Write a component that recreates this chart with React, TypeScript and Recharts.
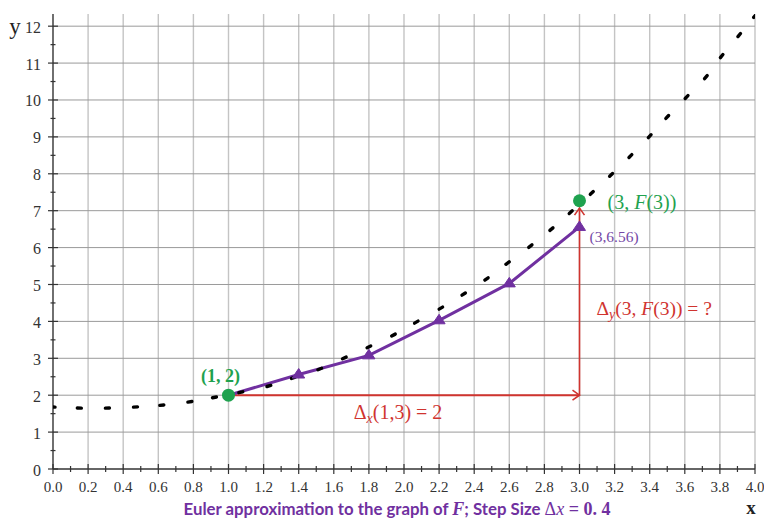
import React from 'react';
import { ComposedChart, Line, Scatter, XAxis, YAxis, CartesianGrid, ReferenceDot } from 'recharts';

// ---------- data ----------
const xTicks = [0, 0.1, 0.2, 0.3, 0.4, 0.5, 0.6, 0.7, 0.8, 0.9, 1.0, 1.1, 1.2, 1.3, 1.4, 1.5, 1.6, 1.7, 1.8, 1.9, 2.0, 2.1, 2.2, 2.3, 2.4, 2.5, 2.6, 2.7, 2.8, 2.9, 3.0, 3.1, 3.2, 3.3, 3.4, 3.5, 3.6, 3.7, 3.8, 3.9, 4.0];
const xGridValues = [0.2, 0.4, 0.6, 0.8, 1.0, 1.2, 1.4, 1.6, 1.8, 2.0, 2.2, 2.4, 2.6, 2.8, 3.0, 3.2, 3.4, 3.6, 3.8, 4.0];
const yTicks = [0, 0.5, 1, 1.5, 2, 2.5, 3, 3.5, 4, 4.5, 5, 5.5, 6, 6.5, 7, 7.5, 8, 8.5, 9, 9.5, 10, 10.5, 11, 11.5, 12];
const yGridValues = [1, 2, 3, 4, 5, 6, 7, 8, 9, 10, 11, 12];

// dotted graph of F
const fCurveX = [0.0, 0.15, 0.31, 0.47, 0.62, 0.78, 0.92, 1.07, 1.23, 1.37, 1.52, 1.66, 1.80, 1.94, 2.07, 2.21, 2.34, 2.47, 2.59, 2.72, 2.84, 2.95, 3.07, 3.18, 3.29, 3.40, 3.50, 3.61, 3.72, 3.81, 3.91, 4.0];
const fCurveY = [1.68, 1.65, 1.65, 1.68, 1.73, 1.82, 1.94, 2.08, 2.25, 2.47, 2.71, 3.01, 3.31, 3.63, 3.98, 4.36, 4.74, 5.15, 5.58, 6.04, 6.50, 6.96, 7.48, 7.97, 8.48, 9.02, 9.54, 10.08, 10.62, 11.19, 11.76, 12.28];

// Euler approximation, step 0.4
const eulerX = [1.0, 1.4, 1.8, 2.2, 2.6, 3.0];
const eulerY = [2.0, 2.56, 3.08, 4.03, 5.03, 6.56];

// marked points
const greenX = [1, 3];
const greenY = [2, 7.27];

// red arrows
const dxArrowX = [1, 3];
const dxArrowY = [2, 2];
const dyArrowX = [3, 3];
const dyArrowY = [2, 7.07];

const fData = fCurveX.map((x, i) => ({ x, y: fCurveY[i] }));
const eulerData = eulerX.map((x, i) => ({ x, y: eulerY[i] }));
const greenData = greenX.map((x, i) => ({ x, y: greenY[i] }));
const dxData = dxArrowX.map((x, i) => ({ x, y: dxArrowY[i] }));
const dyData = dyArrowX.map((x, i) => ({ x, y: dyArrowY[i] }));

// ---------- layout / style ----------
const W = 764;
const H = 521;
const M = { top: 14, right: 9, left: 8, bottom: 22 };
const Y_AXIS_W = 45;
const X_AXIS_H = 30;
const X_DOMAIN: [number, number] = [0, 4];
const Y_DOMAIN: [number, number] = [0, 12.33];
const PLOT_W = W - M.left - M.right - Y_AXIS_W;
const PLOT_H = H - M.top - M.bottom - X_AXIS_H;
const PX_X = PLOT_W / (X_DOMAIN[1] - X_DOMAIN[0]);
const PX_Y = PLOT_H / (Y_DOMAIN[1] - Y_DOMAIN[0]);

const PURPLE = '#7030a0';
const RED = '#d0342f';
const GREEN = '#1fa24f';
const SERIF = '"Liberation Serif", "DejaVu Serif", serif';
const AXIS = '#333333';

const XTick = (props: any) => {
  const { x, y, payload } = props;
  const v = Number(payload.value);
  const major = Math.round(v * 10) % 2 === 0;
  const h = major ? 5 : 3;
  return (
    <g>
      <line x1={x} x2={x} y1={y - h} y2={y + h} stroke={AXIS} strokeWidth={1.2} />
      {major && (
        <text x={x} y={y + 23} textAnchor="middle" fontFamily={SERIF} fontSize={15} fill="#333">
          {v.toFixed(1)}
        </text>
      )}
    </g>
  );
};

const YTick = (props: any) => {
  const { x, y, payload } = props;
  const v = Number(payload.value);
  const major = Number.isInteger(v);
  return (
    <g>
      {major ? (
        <line x1={x - 5} x2={x + 5} y1={y} y2={y} stroke={AXIS} strokeWidth={1.2} />
      ) : (
        <line x1={x - 2.5} x2={x + 2.5} y1={y} y2={y} stroke={AXIS} strokeWidth={1.2} />
      )}
      {major && (
        <text x={x - 12} y={y + 6.5} textAnchor="end" fontFamily={SERIF} fontSize={16} fill="#333">
          {String(v)}
        </text>
      )}
    </g>
  );
};

const FDash = (props: any) => {
  const { cx, cy, payload } = props;
  if (cx == null || cy == null) return <g />;
  const i = fCurveX.indexOf(payload.x);
  const i0 = Math.max(0, i - 1);
  const i1 = Math.min(fCurveX.length - 1, i + 1);
  const dxp = (fCurveX[i1] - fCurveX[i0]) * PX_X;
  const dyp = -(fCurveY[i1] - fCurveY[i0]) * PX_Y;
  const a = Math.atan2(dyp, dxp);
  const L = 2;
  return (
    <line
      x1={cx - L * Math.cos(a)}
      y1={cy - L * Math.sin(a)}
      x2={cx + L * Math.cos(a)}
      y2={cy + L * Math.sin(a)}
      stroke="#000"
      strokeWidth={3.4}
      strokeLinecap="round"
    />
  );
};

const TriangleDot = (props: any) => {
  const { cx, cy, index } = props;
  if (index === 0 || cx == null) return <g key={`t${index}`} />;
  return (
    <path
      key={`t${index}`}
      d={`M${cx},${cy - 6} L${cx + 6},${cy + 3.5} L${cx - 6.5},${cy + 3.5} Z`}
      fill={PURPLE}
      stroke={PURPLE}
      strokeWidth={1}
      strokeLinejoin="round"
    />
  );
};

const RightArrowDot = (props: any) => {
  const { cx, cy, index } = props;
  if (index !== 1 || cx == null) return <g key={`r${index}`} />;
  return (
    <path key={`r${index}`} d={`M${cx - 7},${cy - 5} L${cx},${cy} L${cx - 7},${cy + 5}`} fill="none" stroke={RED} strokeWidth={1.6} />
  );
};

const UpArrowDot = (props: any) => {
  const { cx, cy, index } = props;
  if (index !== 1 || cx == null) return <g key={`u${index}`} />;
  return (
    <path key={`u${index}`} d={`M${cx - 5},${cy + 7} L${cx},${cy} L${cx + 5},${cy + 7}`} fill="none" stroke={RED} strokeWidth={1.6} />
  );
};

const GreenDot = (props: any) => {
  const { cx, cy } = props;
  return <circle cx={cx} cy={cy} r={6.5} fill={GREEN} />;
};

export default function App() {
  return (
    <div style={{ position: 'absolute', left: 0, top: 0, width: W, height: H, background: '#fff' }}>
      <ComposedChart width={W} height={H} margin={M}>
        <CartesianGrid horizontal={false} vertical verticalValues={xGridValues} stroke="#c4c4c4" strokeWidth={1.4} />
        <CartesianGrid vertical={false} horizontal horizontalValues={yGridValues} stroke="#9a9a9a" strokeWidth={1} />
        <XAxis
          dataKey="x"
          type="number"
          domain={X_DOMAIN}
          allowDataOverflow
          ticks={xTicks}
          interval={0}
          height={X_AXIS_H}
          tickLine={false}
          tickSize={0}
          tickMargin={0}
          tick={<XTick />}
          axisLine={{ stroke: AXIS, strokeWidth: 1.4 }}
        />
        <YAxis
          dataKey="y"
          type="number"
          domain={Y_DOMAIN}
          allowDataOverflow
          ticks={yTicks}
          interval={0}
          width={Y_AXIS_W}
          tickLine={false}
          tickSize={0}
          tickMargin={0}
          tick={<YTick />}
          axisLine={{ stroke: AXIS, strokeWidth: 1.4 }}
        />
        <Line data={dxData} dataKey="y" stroke={RED} strokeWidth={2} dot={RightArrowDot} activeDot={false} isAnimationActive={false} />
        <Line data={dyData} dataKey="y" stroke={RED} strokeWidth={1.6} dot={UpArrowDot} activeDot={false} isAnimationActive={false} />
        <Scatter data={fData} dataKey="y" shape={FDash} isAnimationActive={false} />
        <Line data={eulerData} dataKey="y" stroke={PURPLE} strokeWidth={3} dot={TriangleDot} activeDot={false} isAnimationActive={false} />
        <Scatter data={greenData} dataKey="y" shape={GreenDot} isAnimationActive={false} />

        <ReferenceDot
          x={greenX[0]}
          y={greenY[0]}
          r={1}
          shape={(p: any) => (
            <text x={p.cx - 8} y={p.cy - 13} textAnchor="middle" fontFamily={SERIF} fontWeight="bold" fontSize={18} fill={GREEN}>
              (1, 2)
            </text>
          )}
        />
        <ReferenceDot
          x={greenX[1]}
          y={greenY[1]}
          r={1}
          shape={(p: any) => (
            <text x={p.cx + 28} y={p.cy + 8} textAnchor="start" fontFamily={SERIF} fontSize={20} fill={GREEN}>
              (3, <tspan fontStyle="italic">F</tspan>(3))
            </text>
          )}
        />
        <ReferenceDot
          x={eulerX[5]}
          y={eulerY[5]}
          r={1}
          shape={(p: any) => (
            <text x={p.cx + 10} y={p.cy + 15} textAnchor="start" fontFamily={SERIF} fontSize={15.5} fill="#7448a6">
              (3,6.56)
            </text>
          )}
        />
        <ReferenceDot
          x={2}
          y={2}
          r={1}
          shape={(p: any) => (
            <text x={p.cx - 6} y={p.cy + 24} textAnchor="middle" fontFamily={SERIF} fontSize={20} fill={RED}>
              Δ<tspan fontStyle="italic" fontSize={14} dy={4}>x</tspan>
              <tspan dy={-4}>(1,3) = 2</tspan>
            </text>
          )}
        />
        <ReferenceDot
          x={3}
          y={4.5}
          r={1}
          shape={(p: any) => (
            <text x={p.cx + 17} y={p.cy + 12} textAnchor="start" fontFamily={SERIF} fontSize={19.5} fill={RED}>
              Δ<tspan fontStyle="italic" fontSize={14} dy={4}>y</tspan>
              <tspan dy={-4}>(3, </tspan>
              <tspan fontStyle="italic">F</tspan>
              <tspan>(3)) = ?</tspan>
            </text>
          )}
        />
      </ComposedChart>
      <svg width={W} height={H} style={{ position: 'absolute', left: 0, top: 0, pointerEvents: 'none' }}>
        <text x={15} y={34} textAnchor="middle" fontFamily={SERIF} fontSize={23} fill="#222">y</text>
        <text x={751} y={514} textAnchor="middle" fontFamily={SERIF} fontWeight="bold" fontSize={19} fill="#222">x</text>
        <text x={397} y={515} textAnchor="middle" fontFamily="Lato, 'Open Sans', sans-serif" fontWeight="bold" fontSize={16.8} fill={PURPLE}>
          Euler approximation to the graph of <tspan fontFamily={SERIF} fontStyle="italic" fontSize={18}>F</tspan>; Step Size <tspan fontFamily={SERIF} fontWeight="normal" fontSize={18}>Δ</tspan><tspan fontFamily={SERIF} fontStyle="italic" fontWeight="normal" fontSize={18}>x</tspan><tspan fontFamily={SERIF} fontSize={18}> = 0. 4</tspan>
        </text>
      </svg>
    </div>
  );
}
